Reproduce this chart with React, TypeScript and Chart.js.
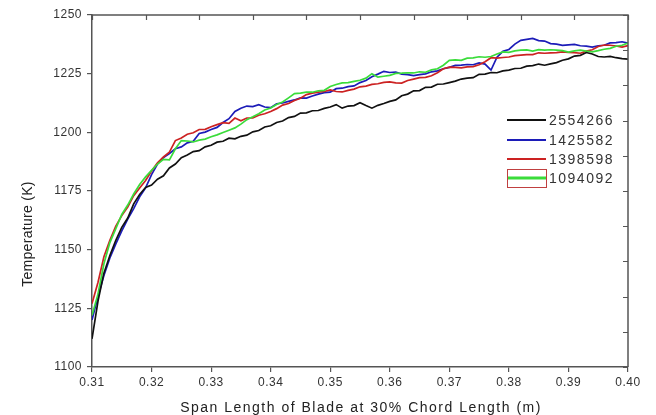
import React, { useEffect, useRef } from 'react';
import { Chart, registerables } from 'chart.js';

Chart.register(...registerables);

// Sampling grid along the span (m)
const X_START = 0.31;
const X_STEP = 0.001;

const SERIES_NAMES = ['2554266', '1425582', '1398598', '1094092'];
const SERIES_COLORS = ['#111111', '#1c1cb8', '#cc2222', '#3adc3a'];

const T_2554266 = [
  1112, 1128, 1140, 1147.5, 1154, 1159.5, 1163.5, 1169.5, 1173.5, 1176.5,
  1177.5, 1180, 1181.5, 1184.8, 1186.5, 1189.2, 1190.3, 1191.8, 1192.2, 1193.8,
  1194.5, 1195.8, 1196.2, 1197.5, 1197.2, 1198.3, 1198.8, 1200.2, 1200.8, 1202.3,
  1202.8, 1204.2, 1204.8, 1206.3, 1206.8, 1208.2, 1208.3, 1209.2, 1209.3, 1210.2,
  1210.8, 1211.8, 1210.3, 1211.2, 1211.4, 1212.6, 1211.4, 1210.3, 1211.5, 1212.3,
  1213.2, 1213.8, 1215.6, 1216.3, 1217.7, 1217.8, 1219.2, 1219.3, 1220.5, 1220.6,
  1221.2, 1221.8, 1222.7, 1223.1, 1223.3, 1224.7, 1224.8, 1225.5, 1225.4, 1226.2,
  1226.5, 1227.2, 1227.3, 1228.2, 1228.4, 1229.1, 1228.6, 1229.2, 1229.7, 1230.7,
  1231.3, 1232.5, 1232.8, 1234, 1233.4, 1232.3, 1232.1, 1232.4, 1231.8, 1231.4, 1231.2,
];

const T_1425582 = [
  1120, 1130, 1139, 1146.5, 1152.5, 1158, 1163, 1167.5, 1172.5, 1176.3,
  1182, 1186.5, 1189.2, 1191, 1193, 1193.8, 1195.5, 1196.2, 1199.5, 1200.1,
  1201.2, 1202.1, 1204.2, 1205.8, 1208.9, 1210.3, 1211.2, 1211, 1211.8, 1210.8,
  1210.5, 1212.2, 1212.5, 1213.2, 1213.8, 1214.7, 1214.6, 1215.5, 1216.3, 1216.9,
  1217.1, 1218.6, 1218.8, 1219.5, 1219.8, 1221.2, 1222.1, 1223.7, 1224.8, 1226,
  1225.5, 1225.7, 1224.8, 1224.6, 1224.2, 1224.6, 1224.9, 1225.8, 1226.2, 1227.1,
  1227.7, 1228.5, 1228.6, 1228.9, 1228.8, 1229.6, 1229.1, 1226.5, 1232, 1234.5,
  1235.3, 1237.6, 1239.2, 1239.6, 1240, 1239.1, 1238.9, 1237.8, 1237.6, 1237.1,
  1237.3, 1237.5, 1236.9, 1236.7, 1236.3, 1236.9, 1237.1, 1238.1, 1238.2, 1238.6, 1238,
];

const T_1398598 = [
  1127, 1136, 1147, 1154, 1160, 1164.5, 1168.2, 1173, 1176.3, 1179.5,
  1183.5, 1187, 1189.5, 1191.6, 1196.5, 1197.6, 1199.2, 1199.8, 1201.2, 1201.3,
  1202.4, 1203.3, 1204.1, 1203.8, 1206.1, 1204.9, 1206.1, 1206.2, 1207.3, 1207.9,
  1208.9, 1210.1, 1211.6, 1212.3, 1213.6, 1214.5, 1216.1, 1216.7, 1217.1, 1217.4,
  1218.1, 1217.4, 1217.2, 1217.9, 1218.4, 1219.4, 1219.7, 1220.4, 1220.7, 1221.3,
  1221.5, 1221.1, 1221, 1222.1, 1222.7, 1223.3, 1223.4, 1224.1, 1225.4, 1227.1,
  1227.8, 1227.7, 1227.5, 1227.9, 1228, 1228.8, 1230.1, 1231.8, 1231.6, 1231.9,
  1232.1, 1232.7, 1232.9, 1233.1, 1233.1, 1233.9, 1233.7, 1233.9, 1234, 1234.3,
  1234.1, 1234, 1233.7, 1234.6, 1235.2, 1236.6, 1237.2, 1237.1, 1236.8, 1236.3, 1237,
];

const T_1094092 = [
  1122, 1131, 1144, 1153, 1159, 1165, 1169, 1173.7, 1177.8, 1181,
  1183.8, 1186.5, 1188.5, 1188.3, 1193, 1196.5, 1196.3, 1195.9, 1196.7, 1197.1,
  1198.1, 1198.9, 1199.9, 1200.9, 1201.9, 1203.5, 1205.4, 1206.6, 1207.9, 1209.5,
  1210.4, 1211.9, 1212.9, 1214.7, 1216.5, 1216.7, 1217.1, 1217.1, 1217.7, 1217.9,
  1219.5, 1220.4, 1221.1, 1221.2, 1221.7, 1222.2, 1223.1, 1225, 1223.5, 1223.9,
  1224.3, 1225.1, 1225.2, 1225.4, 1225.3, 1225.8, 1225.6, 1226.6, 1227.1, 1228.6,
  1230.7, 1230.9, 1230.7, 1231.6, 1231.7, 1232.2, 1232, 1232.3, 1233.4, 1234.3,
  1234.1, 1234.7, 1235, 1235.1, 1234.6, 1235.2, 1235, 1235.2, 1235, 1234.8,
  1234.2, 1234.7, 1235, 1234.6, 1234.3, 1234.8, 1235.4, 1235.8, 1236.7, 1237.1, 1238,
];

const SERIES_VALUES = [T_2554266, T_1425582, T_1398598, T_1094092];

const X_MIN = 0.31;
const X_MAX = 0.40;
const X_TICK_STEP = 0.01;
const Y_MIN = 1100;
const Y_MAX = 1250;
const Y_TICK_STEP = 25;

const X_TITLE = 'Span Length of Blade at 30% Chord Length (m)';
const Y_TITLE = 'Temperature (K)';

const FONT = "'Liberation Sans', Arial, sans-serif";
const AXIS_COLOR = '#555555';
const TEXT_COLOR = '#333333';

export default function App() {
  const ref = useRef<HTMLCanvasElement>(null);

  useEffect(() => {
    if (!ref.current) return;
    const xs = T_2554266.map((_, i) => +(X_START + i * X_STEP).toFixed(4));

    const spacingPlugin = {
      id: 'spacing',
      beforeDraw(chart: any) {
        (chart.ctx as any).letterSpacing = '0.5px';
      },
    };

    const framePlugin = {
      id: 'frameAndLegend',
      afterDraw(chart: any) {
        const { ctx, chartArea: a } = chart;
        const x2 = chart.scales.x2;
        const y2 = chart.scales.y2;
        ctx.save();
        ctx.strokeStyle = AXIS_COLOR;
        ctx.lineWidth = 1.5;
        ctx.beginPath();
        ctx.moveTo(a.left, a.top);
        ctx.lineTo(a.right, a.top);
        ctx.lineTo(a.right, a.bottom);
        ctx.stroke();
        ctx.lineWidth = 1.2;
        ctx.beginPath();
        x2.ticks.forEach((t: any) => {
          const px = Math.round(x2.getPixelForValue(t.value)) + 0.5;
          ctx.moveTo(px, a.top);
          ctx.lineTo(px, a.top + 5);
        });
        y2.ticks.forEach((t: any) => {
          const py = Math.round(y2.getPixelForValue(t.value)) + 0.5;
          ctx.moveTo(a.right, py);
          ctx.lineTo(a.right - 5, py);
        });
        ctx.stroke();

        // axis titles
        ctx.fillStyle = '#222222';
        ctx.textAlign = 'center';
        ctx.textBaseline = 'middle';
        ctx.font = `14px ${FONT}`;
        (ctx as any).letterSpacing = '1.5px';
        ctx.fillText(X_TITLE, (a.left + a.right) / 2 + 1, 408);
        ctx.save();
        ctx.translate(28, 234);
        ctx.rotate(-Math.PI / 2);
        ctx.font = `14px ${FONT}`;
        (ctx as any).letterSpacing = '0.3px';
        ctx.fillText(Y_TITLE, 0, 0);
        ctx.restore();

        // legend
        const lx0 = a.right - 121;
        const lx1 = a.right - 82;
        const tx = a.right - 79;
        const rows = [105, 125, 144, 163];
        ctx.font = `14px ${FONT}`;
        (ctx as any).letterSpacing = '1.5px';
        ctx.textBaseline = 'middle';
        ctx.textAlign = 'left';
        SERIES_NAMES.forEach((name, i) => {
          const y = a.top + rows[i];
          ctx.strokeStyle = SERIES_COLORS[i];
          ctx.lineWidth = i === 3 ? 3 : 2;
          ctx.beginPath();
          ctx.moveTo(lx0, y);
          ctx.lineTo(lx1, y);
          ctx.stroke();
          if (i === 3) {
            ctx.strokeStyle = '#c04040';
            ctx.lineWidth = 1;
            ctx.strokeRect(lx0 + 0.5, y - 8.5, lx1 - lx0, 18);
          }
          ctx.fillStyle = '#333333';
          ctx.fillText(name, tx, y + 1);
        });
        ctx.restore();
      },
    };

    const order = [0, 3, 2, 1];
    const datasets = order.map((i) => ({
      label: SERIES_NAMES[i],
      data: SERIES_VALUES[i].map((v, k) => ({ x: xs[k], y: v })),
      borderColor: SERIES_COLORS[i],
      backgroundColor: SERIES_COLORS[i],
      borderWidth: 1.7,
      pointRadius: 0,
      tension: 0,
      fill: false,
    }));

    const chart = new Chart(ref.current, {
      type: 'line',
      data: { datasets },
      plugins: [spacingPlugin, framePlugin],
      options: {
        animation: false,
        responsive: false,
        devicePixelRatio: 1,
        layout: { padding: { top: 15, right: 28, left: 0, bottom: 0 } },
        plugins: { legend: { display: false }, tooltip: { enabled: false } },
        scales: {
          x: {
            type: 'linear',
            position: 'bottom',
            min: X_MIN,
            max: X_MAX,
            afterFit: (s: any) => { s.height = 48; },
            ticks: {
              stepSize: X_TICK_STEP,
              callback: (v: any) => Number(v).toFixed(2),
              font: { family: FONT, size: 12 },
              color: TEXT_COLOR,
              padding: 3,
              maxRotation: 0,
              autoSkip: false,
            },
            grid: { drawOnChartArea: false, drawTicks: true, tickLength: 5, color: AXIS_COLOR, lineWidth: 1.2 },
            border: { display: true, color: AXIS_COLOR, width: 1.5 },
          },
          y: {
            type: 'linear',
            position: 'left',
            min: Y_MIN,
            max: Y_MAX,
            afterFit: (s: any) => { s.width = 92; },
            ticks: {
              stepSize: Y_TICK_STEP,
              callback: (v: any) => String(v),
              font: { family: FONT, size: 12 },
              color: TEXT_COLOR,
              padding: 5,
            },
            grid: { drawOnChartArea: false, drawTicks: true, tickLength: 5, color: AXIS_COLOR, lineWidth: 1.2 },
            border: { display: true, color: AXIS_COLOR, width: 1.5 },
          },
          x2: {
            type: 'linear',
            position: 'top',
            min: 0,
            max: 10,
            afterFit: (s: any) => { s.height = 0; },
            ticks: { display: false, stepSize: 1 },
            grid: { display: false },
            border: { display: false },
          },
          y2: {
            type: 'linear',
            position: 'right',
            min: 0,
            max: 10,
            afterFit: (s: any) => { s.width = 0; },
            ticks: { display: false, stepSize: 1 },
            grid: { display: false },
            border: { display: false },
          },
        },
      },
    });
    return () => chart.destroy();
  }, []);

  return (
    <div style={{ position: 'fixed', left: 0, top: 0, width: 656, height: 415, background: '#ffffff' }}>
      <canvas ref={ref} width={656} height={415} style={{ width: 656, height: 415, display: 'block' }} />
    </div>
  );
}
